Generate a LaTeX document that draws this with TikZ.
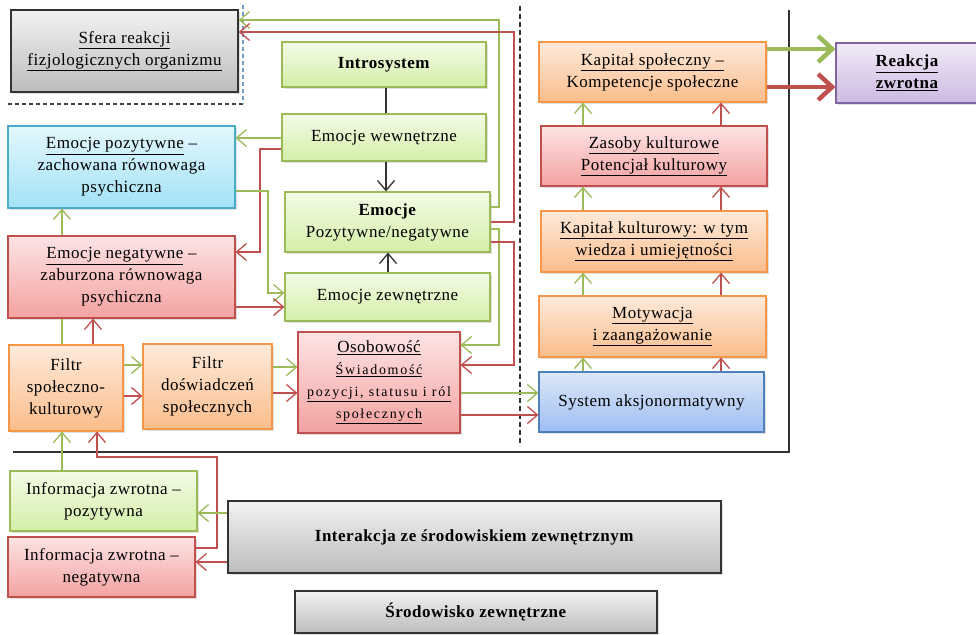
\documentclass[tikz,border=0pt]{standalone}
\usepackage{fontspec}
\setmainfont{Liberation Serif}
\newfontfamily\mainf[LetterSpace=3]{Liberation Serif}
\newfontfamily\subf[LetterSpace=12]{Liberation Serif}
\usetikzlibrary{arrows.meta,shadows}
\definecolor{gline}{HTML}{9BBB59}
\definecolor{rline}{HTML}{C0504D}
\definecolor{gTop}{HTML}{F3FBE6}\definecolor{gBot}{HTML}{D3EFA8}
\definecolor{bTop}{HTML}{E4F7FD}\definecolor{bBot}{HTML}{A2E2F6}\definecolor{bDraw}{HTML}{4BACC6}
\definecolor{rTop}{HTML}{FDE3E3}\definecolor{rBot}{HTML}{F3A2A1}
\definecolor{oTop}{HTML}{FDEADB}\definecolor{oBot}{HTML}{FBBD8B}\definecolor{oDraw}{HTML}{F79646}
\definecolor{kTop}{HTML}{F2F2F2}\definecolor{kBot}{HTML}{BCBCBC}
\definecolor{sTop}{HTML}{DDE7F8}\definecolor{sBot}{HTML}{9DBEF2}\definecolor{sDraw}{HTML}{4F81BD}
\definecolor{pTop}{HTML}{F1EBF7}\definecolor{pBot}{HTML}{CDB9E2}\definecolor{pDraw}{HTML}{8064A2}
\newcommand\smu[1]{{\subf\fontsize{14}{20}\selectfont\underline{#1}}}
\tikzset{
  box/.style={rectangle, inner sep=2pt, align=center, line width=1.1pt,
    font=\mainf\fontsize{17}{22}\selectfont,
    drop shadow={opacity=0.25, shadow xshift=1.5pt, shadow yshift=-2pt}},
  gbox/.style={box, draw=gline, top color=gTop, bottom color=gBot},
  bbox/.style={box, draw=bDraw, top color=bTop, bottom color=bBot},
  rbox/.style={box, draw=rline, top color=rTop, bottom color=rBot},
  obox/.style={box, draw=oDraw, top color=oTop, bottom color=oBot},
  kbox/.style={box, draw=black!80, line width=1.3pt, top color=kTop, bottom color=kBot},
  sbox/.style={box, draw=sDraw, top color=sTop, bottom color=sBot},
  pbox/.style={box, draw=pDraw, top color=pTop, bottom color=pBot},
  gl/.style={draw=gline, line width=1.3pt},
  rl/.style={draw=rline, line width=1.3pt},
  ga/.style={gl, -{Straight Barb[length=10pt,width=17pt]}},
  ra/.style={rl, -{Straight Barb[length=10pt,width=17pt]}},
  ka/.style={draw=black!80, line width=1.3pt, -{Straight Barb[length=10pt,width=17pt]}},
  kl/.style={draw=black!80, line width=1.3pt},
  gA/.style={draw=gline, line width=4.5pt, -{Straight Barb[length=14pt,width=26pt]}},
  rA/.style={draw=rline, line width=4.5pt, -{Straight Barb[length=14pt,width=26pt]}},
}
\begin{document}
\begin{tikzpicture}[x=1pt,y=-1pt]
\useasboundingbox (0,0) rectangle (976,634);
% separators
\draw[black!75, line width=1.2pt, dash pattern=on 4pt off 3pt] (8,104) -- (243,104);
\draw[sDraw!80, line width=1.2pt, dash pattern=on 4pt off 3pt] (243,5) -- (243,104);
\draw[black!80, line width=1.3pt, dash pattern=on 5pt off 3pt] (520,6) -- (520,446);
\draw[black!80, line width=1.3pt] (789,10) -- (789,452) -- (13,452);
% nodes
\node[kbox, minimum width=227pt, minimum height=82pt] (sfera) at (124.5,51) {\underline{Sfera reakcji}\\\underline{fizjologicznych organizmu}};
\node[gbox, minimum width=204pt, minimum height=45pt] (intro) at (384,64.5) {\textbf{Introsystem}};
\node[gbox, minimum width=204pt, minimum height=47pt] (ewew) at (384,137.5) {Emocje wewnętrzne};
\node[gbox, minimum width=205pt, minimum height=60pt] (epn) at (387.5,222) {\textbf{Emocje}\\Pozytywne/negatywne};
\node[gbox, minimum width=205pt, minimum height=48pt] (ezew) at (387.5,297) {Emocje zewnętrzne};
\node[rbox, minimum width=162pt, minimum height=101pt] (osob) at (379,382.5) {\underline{Osobowość}\\\smu{Świadomość}\\\smu{pozycji, statusu i ról}\\\smu{społecznych}};
\node[bbox, minimum width=227pt, minimum height=82pt] (epoz) at (121.5,167) {\underline{Emocje pozytywne} –\\zachowana równowaga\\psychiczna};
\node[rbox, minimum width=227pt, minimum height=82pt] (eneg) at (121.5,277) {\underline{Emocje negatywne} –\\zaburzona równowaga\\psychiczna};
\node[obox, minimum width=114pt, minimum height=86pt] (fsk) at (66,388) {Filtr\\społeczno-\\kulturowy};
\node[obox, minimum width=129pt, minimum height=85pt] (fdo) at (207.5,386.5) {Filtr\\doświadczeń\\społecznych};
\node[gbox, minimum width=187pt, minimum height=60pt] (izp) at (103.5,501) {Informacja zwrotna –\\pozytywna};
\node[rbox, minimum width=187pt, minimum height=60pt] (izn) at (101.5,567) {Informacja zwrotna –\\negatywna};
\node[kbox, minimum width=493pt, minimum height=72pt] (inter) at (474.5,537) {\textbf{Interakcja ze środowiskiem zewnętrznym}};
\node[kbox, minimum width=362pt, minimum height=42pt] (srod) at (476,612) {\textbf{Środowisko zewnętrzne}};
\node[obox, minimum width=227pt, minimum height=60pt] (kspol) at (652.5,72) {\underline{Kapitał społeczny –}\\Kompetencje społeczne};
\node[pbox, minimum width=142pt, minimum height=60pt] (reak) at (907,73) {\textbf{\underline{Reakcja}}\\\textbf{\underline{zwrotna}}};
\node[rbox, minimum width=226pt, minimum height=60pt] (zas) at (654,156) {\underline{Zasoby kulturowe}\\\underline{Potencjał kulturowy}};
\node[obox, minimum width=226pt, minimum height=61pt] (kkul) at (654,241.5) {\underline{Kapitał kulturowy: w tym}\\\underline{wiedza i umiejętności}};
\node[obox, minimum width=227pt, minimum height=61pt] (mot) at (652.5,326.5) {\underline{Motywacja}\\\underline{i zaangażowanie}};
\node[sbox, minimum width=225pt, minimum height=60pt] (sys) at (651.5,402) {System aksjonormatywny};
% black connectors
\draw[kl] (386,0 |- intro.south) -- (386,0 |- ewew.north);
\draw[ka] (386,0 |- ewew.south) -- (386,0 |- epn.north);
\draw[ka] (388,0 |- ezew.north) -- (388,0 |- epn.south);
% feedback to Sfera and Osobowosc
\draw[ga] (epn.east |- 0,207) -| (499,20) -- (sfera.east |- 0,20);
\draw[ra] (epn.east |- 0,222) -| (514,32) -- (sfera.east |- 0,32);
\draw[ga] (epn.east |- 0,229) -| (499,345) -- (osob.east |- 0,345);
\draw[ra] (epn.east |- 0,242) -| (514,365) -- (osob.east |- 0,365);
% left part
\draw[ga] (ewew.west |- 0,138) -- (epoz.east |- 0,138);
\draw[ra] (ewew.west |- 0,149) -| (260,252) -- (eneg.east |- 0,252);
\draw[ga] (epoz.east |- 0,191) -| (268,293) -- (ezew.west |- 0,293);
\draw[ra] (eneg.east |- 0,307) -- (ezew.west |- 0,307);
\draw[gl] (62,0 |- fsk.north) -- (62,0 |- eneg.south);
\draw[ga] (62,0 |- eneg.north) -- (62,0 |- epoz.south);
\draw[ra] (93,0 |- fsk.north) -- (93,0 |- eneg.south);
\draw[ga] (fsk.east |- 0,365) -- (fdo.west |- 0,365);
\draw[ra] (fsk.east |- 0,396) -- (fdo.west |- 0,396);
\draw[ga] (fdo.east |- 0,367) -- (osob.west |- 0,367);
\draw[ra] (fdo.east |- 0,393) -- (osob.west |- 0,393);
\draw[ga] (osob.east |- 0,393) -- (sys.west |- 0,393);
\draw[ra] (osob.east |- 0,415) -- (sys.west |- 0,415);
% right chain
\foreach \a/\b in {sys/mot, mot/kkul, kkul/zas, zas/kspol}{
  \draw[ga] (583,0 |- \a.north) -- (583,0 |- \b.south);
  \draw[ra] (721,0 |- \a.north) -- (721,0 |- \b.south);
}
\draw[gA] (kspol.east |- 0,49) -- (reak.west |- 0,49);
\draw[rA] (kspol.east |- 0,87) -- (reak.west |- 0,87);
% bottom
\draw[ga] (62,0 |- izp.north) -- (62,0 |- fsk.south);
\draw[ra] (izn.east |- 0,548) -| (217,457) -| (97,0 |- fsk.south);
\draw[ga] (inter.west |- 0,513) -- (izp.east |- 0,513);
\draw[ra] (inter.west |- 0,562) -- (izn.east |- 0,562);
\end{tikzpicture}
\end{document}
